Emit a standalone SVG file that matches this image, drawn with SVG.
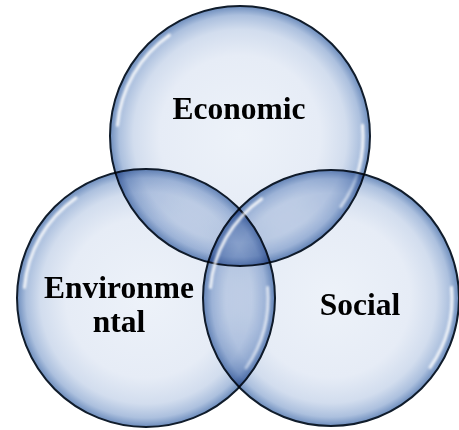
<svg xmlns="http://www.w3.org/2000/svg" width="459" height="430" viewBox="0 0 459 430">
<defs>
<radialGradient id="bub" cx="0.5" cy="0.5" r="0.5">
<stop offset="0" stop-color="#edf2f9"/>
<stop offset="0.62" stop-color="#e6ecf6"/>
<stop offset="0.82" stop-color="#d2ddee"/>
<stop offset="0.93" stop-color="#acc0de"/>
<stop offset="1" stop-color="#6d8dbd"/>
</radialGradient>
<filter id="blur" x="-30%" y="-30%" width="160%" height="160%"><feGaussianBlur stdDeviation="1.3"/></filter>
</defs>
<style>
.c{fill:url(#bub);stroke:#101c2b;stroke-width:2;mix-blend-mode:multiply}
.h{fill:none;stroke:#ffffff;stroke-width:3;stroke-linecap:round;opacity:0.85;filter:url(#blur)}
text{font-family:'Liberation Serif','Times New Roman',serif;font-weight:700;font-size:31.5px;fill:#000;text-anchor:middle}
</style>
<g id="economic">
<circle class="c" cx="240" cy="136" r="130"/>
<path class="h" d="M 117.5 125.3 A 123 123 0 0 1 169.4 35.2"/>
<path class="h" d="M 362.5 125.3 A 123 123 0 0 1 340.8 206.6"/>
</g>
<g id="environmental">
<circle class="c" cx="146" cy="298" r="129"/>
<path class="h" d="M 24.5 287.4 A 122 122 0 0 1 76 198.1"/>
<path class="h" d="M 267.5 287.4 A 122 122 0 0 1 245.9 368"/>
</g>
<g id="social">
<circle class="c" cx="331" cy="298" r="128"/>
<path class="h" d="M 210.5 287.5 A 121 121 0 0 1 261.6 198.9"/>
<path class="h" d="M 451.5 287.4 A 121 121 0 0 1 430.1 367.4"/>
</g>
<g id="labels">
<text x="239" y="119">Economic</text>
<text x="119" y="298">Environme</text>
<text x="119" y="332">ntal</text>
<text x="360" y="315">Social</text>
</g>
<g id="connectors"></g>
</svg>
